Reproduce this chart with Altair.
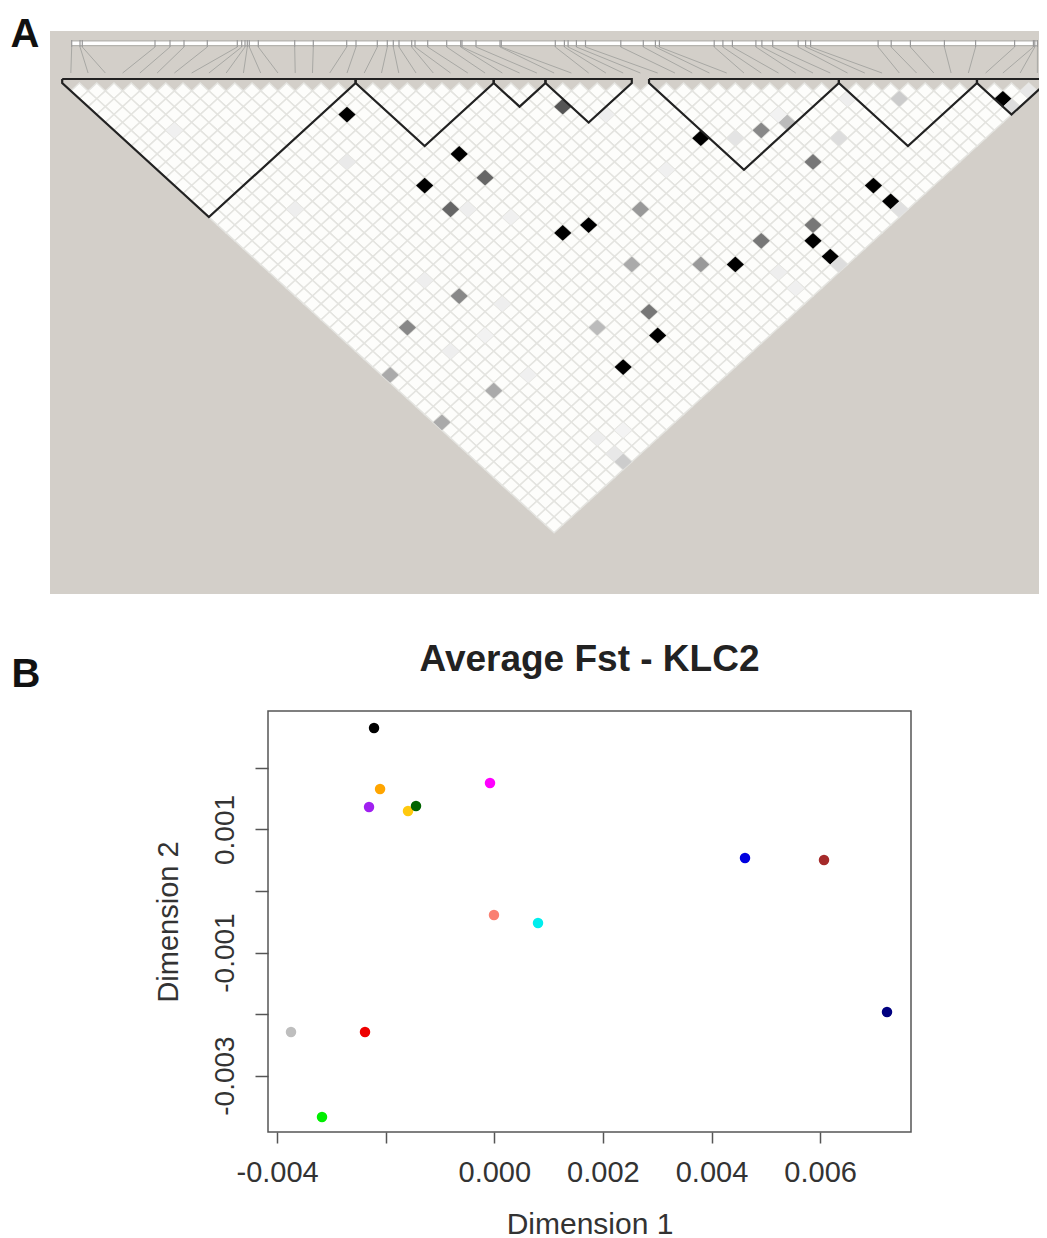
import altair as alt
import pandas as pd

FONT = "Liberation Sans"
BG = "#d3cfc9"

# ---------- Panel A: LD heat map (marker pair indices and cell shades) ----------
N_CELLS = 58
pair_i = [14,18,14,33,40,40,53,19,21,33,33,27,14,18,
          27,18,14,37,38,25,34,30,21,25,9,4,19,0,0,5,15,39,47,41,35,
          11,5,3,15,17,8,11,8,5,8,8,8,8,10,29,33,40,53,29,44,29,29,55,39]
pair_j = [19,28,28,41,54,56,56,39,40,54,56,51,51,51,
          31,31,31,44,49,42,53,51,45,49,37,36,49,38,44,45,47,45,50,49,43,
          22,22,10,32,35,34,40,41,40,46,54,56,57,55,54,57,57,57,41,47,34,56,57,44]
pair_shade = ["#000000"]*14 + [
    "#555555","#666666","#666666","#888888","#777777","#999999","#777777","#777777",
    "#aaaaaa","#999999","#888888","#888888","#777777","#aaaaaa","#aaaaaa","#aaaaaa",
    "#bbbbbb","#bbbbbb","#cccccc","#dddddd","#e4e4e4",
    "#eaeaea","#eeeeee","#f0f0f0","#eeeeee","#f0f0f0","#eeeeee","#eeeeee","#f2f2f2",
    "#eeeeee","#f0f0f0","#eeeeee","#e8e8e8","#cccccc","#f3f3f3","#eeeeee","#dddddd",
    "#e0e0e0","#dddddd","#f0f0f0","#eeeeee","#eeeeee","#f0f0f0","#e8e8e8","#f2f2f2"]

block_start = [0,17,25,28,34,45,53]
block_end   = [17,25,28,33,45,53,57]

map_pos = [71.7,80,82.3,155,170,184,207.3,237.3,241.7,245,247.3,249.3,258.3,294.7,313.3,
           346.7,356,377.3,387.3,393.3,399,411.7,415,427.7,446.7,460.7,462,476,500,501.3,
           555.3,564.4,568.1,576.4,585.5,620.8,643.3,655.4,659.4,714.2,722.9,732.4,755.9,761.9,772.7,
           798.2,805.6,810.6,878.1,891.2,910.4,944.4,975.6,1014.6,1033.4,1034.8,1037.4]

X0, PITCH, Y1, ROW = 62.2, 17.26, 83.0, 7.89
def ux(p): return (p - X0) / PITCH
def vy(p): return 1 + (p - Y1) / ROW

xs_a = alt.Scale(domain=[ux(50), ux(1039)], nice=False, zero=False)
ys_a = alt.Scale(domain=[vy(31), vy(594)], nice=False, zero=False, reverse=True)
X = lambda f="u": alt.X(f"{f}:Q", scale=xs_a, axis=None)
Y = lambda f="v": alt.Y(f"{f}:Q", scale=ys_a, axis=None)

DIAMOND = "M0,-0.914L1,0L0,0.914L-1,0Z"
CELL_SIZE = PITCH ** 2

grid = pd.DataFrame([{"u": i + v / 2, "v": v}
                     for v in range(2, N_CELLS) for i in range(0, N_CELLS - v)])
cells = pd.DataFrame({"u": [(a + b) / 2 for a, b in zip(pair_i, pair_j)],
                      "v": [b - a for a, b in zip(pair_i, pair_j)],
                      "shade": pair_shade})

grid_layer = alt.Chart(grid).mark_point(shape=DIAMOND, filled=True, size=CELL_SIZE, opacity=1, clip=True,
                                        fill="#fdfdfb", stroke="#e4e4e0", strokeWidth=1.5).encode(x=X(), y=Y())
cell_layer = alt.Chart(cells).mark_point(shape=DIAMOND, filled=True, size=CELL_SIZE, opacity=1, clip=True).encode(
    x=X(), y=Y(), fill=alt.Fill("shade:N", scale=None))

blocks = []
for b, (s, e) in enumerate(zip(block_start, block_end)):
    pts = [(s, 0.49), (s, 1), ((s + e) / 2, e - s + 1), (e, 1), (e, 0.49), (s, 0.49)]
    blocks += [{"b": b, "k": k, "u": p[0], "v": p[1]} for k, p in enumerate(pts)]
block_layer = alt.Chart(pd.DataFrame(blocks)).mark_line(color="#222222", strokeWidth=2.2, clip=True).encode(
    x=X(), y=Y(), detail="b:N", order="k:Q")

links = pd.DataFrame([{"u": ux(p), "u2": k + 0.5, "v": vy(47), "v2": vy(73), "vt": vy(40)}
                      for k, p in enumerate(map_pos)])
link_layer = alt.Chart(links).mark_rule(color="#a8a8a4", strokeWidth=1, clip=True).encode(
    x=X(), x2="u2:Q", y=Y(), y2="v2:Q")
strip = pd.DataFrame({"u": [ux(map_pos[0])], "u2": [ux(map_pos[-1])], "v": [vy(43.3)]})
strip_edge = alt.Chart(strip).mark_rule(color="#b4b3ae", strokeWidth=6, clip=True).encode(x=X(), x2="u2:Q", y=Y())
strip_white = alt.Chart(strip).mark_rule(color="#ffffff", strokeWidth=3.6, clip=True).encode(x=X(), x2="u2:Q", y=Y())
tick_layer = alt.Chart(links).mark_rule(color="#999999", strokeWidth=1.2, clip=True).encode(
    x=X(), y=Y("vt"), y2="v:Q")

letter_a = alt.Chart(pd.DataFrame({"u": [ux(25)], "v": [vy(47)], "t": ["A"]})).mark_text(
    font=FONT, fontSize=40, fontWeight="bold", color="#111111", align="center", baseline="alphabetic"
).encode(x=X(), y=Y(), text="t:N")

panel_a = alt.layer(grid_layer, cell_layer, link_layer, strip_edge, strip_white, tick_layer,
                    block_layer, letter_a).properties(
    width=989, height=563, view=alt.ViewConfig(fill=BG, stroke=None))

# ---------- Panel B: MDS of average Fst ----------
pop_color = ["#000000","#FFA500","#A020F0","#FFC90E","#006400","#FF00FF","#0000E0","#A52A2A",
             "#FA8072","#00EEEE","#000080","#BEBEBE","#EE0000","#00EE00"]
dim1 = [-0.002215,-0.002104,-0.002307,-0.001589,-0.001442,-0.000079,0.004617,0.006072,
        -0.000006,0.000805,0.007232,-0.003744,-0.002381,-0.003173]
dim2 = [0.002650,0.001659,0.001366,0.001301,0.001382,0.001756,0.000537,0.000504,
        -0.000390,-0.000520,-0.001967,-0.002293,-0.002293,-0.003675]
x_ticks = [-0.004,-0.002,0.0,0.002,0.004,0.006]
y_ticks = [-0.003,-0.002,-0.001,0.0,0.001,0.002]

def d1(p): return (p - 494.3) / 54300
def d2(p): return (891 - p) / 61500

xs_b = alt.Scale(domain=[d1(268), d1(911)], nice=False, zero=False)
ys_b = alt.Scale(domain=[d2(1132), d2(711)], nice=False, zero=False)

HYPHEN = "replace(format(datum.value, '.3f'), '\u2212', '-')"
x_axis = alt.Axis(values=x_ticks, grid=False, domain=False, title="Dimension 1",
                  labelExpr=f"datum.value > -0.003 && datum.value < -0.001 ? '' : {HYPHEN}",
                  tickSize=11, tickWidth=1.5, tickColor="#555555", labelFont=FONT, labelFontSize=29,
                  labelColor="#333333", labelPadding=15, labelFlush=False, labelOverlap=False,
                  titleFont=FONT, titleFontSize=30, titleFontWeight="normal", titleColor="#333333", titlePadding=22)
y_axis = alt.Axis(values=y_ticks, grid=False, domain=False, title="Dimension 2",
                  labelExpr=f"abs(datum.value) > 0.0005 && abs(abs(datum.value) - 0.002) > 0.0005 ? {HYPHEN} : ''",
                  tickSize=13, tickWidth=1.5, tickColor="#555555", labelFont=FONT, labelFontSize=28,
                  labelColor="#333333", labelAngle=270, labelPadding=16, labelFlush=False, labelOverlap=False,
                  titleFont=FONT, titleFontSize=29, titleFontWeight="normal", titleColor="#333333", titlePadding=28)

points = alt.Chart(pd.DataFrame({"d1": dim1, "d2": dim2, "c": pop_color})).mark_point(
    filled=True, size=110, opacity=1, shape="circle").encode(
    x=alt.X("d1:Q", scale=xs_b, axis=x_axis),
    y=alt.Y("d2:Q", scale=ys_b, axis=y_axis),
    fill=alt.Fill("c:N", scale=None))
letter_b = alt.Chart(pd.DataFrame({"d1": [d1(26)], "d2": [d2(687)], "t": ["B"]})).mark_text(
    font=FONT, fontSize=40, fontWeight="bold", color="#111111", align="center", baseline="alphabetic"
).encode(x=alt.X("d1:Q", scale=xs_b), y=alt.Y("d2:Q", scale=ys_b), text="t:N")

panel_b = alt.layer(points, letter_b).properties(
    width=643, height=421,
    title=alt.TitleParams("Average Fst - KLC2", font=FONT, fontSize=37, fontWeight="bold",
                          color="#222222", anchor="middle", offset=-24),
    view=alt.ViewConfig(fill="white", stroke="#555555", strokeWidth=1.5))

spacer = alt.Chart(pd.DataFrame({"a": [0]})).mark_point(opacity=0).encode(
    x=alt.value(0), y=alt.value(0)).properties(width=218, height=421, view=alt.ViewConfig(stroke=None))

chart = alt.vconcat(panel_a, alt.hconcat(spacer, panel_b, spacing=0, bounds="flush"),
                    spacing=117, bounds="flush").properties(
    padding={"left": 2, "top": 7, "right": 0, "bottom": 0}, background="white")

chart.save("out.html", embed_options={"renderer": "svg", "actions": False})
